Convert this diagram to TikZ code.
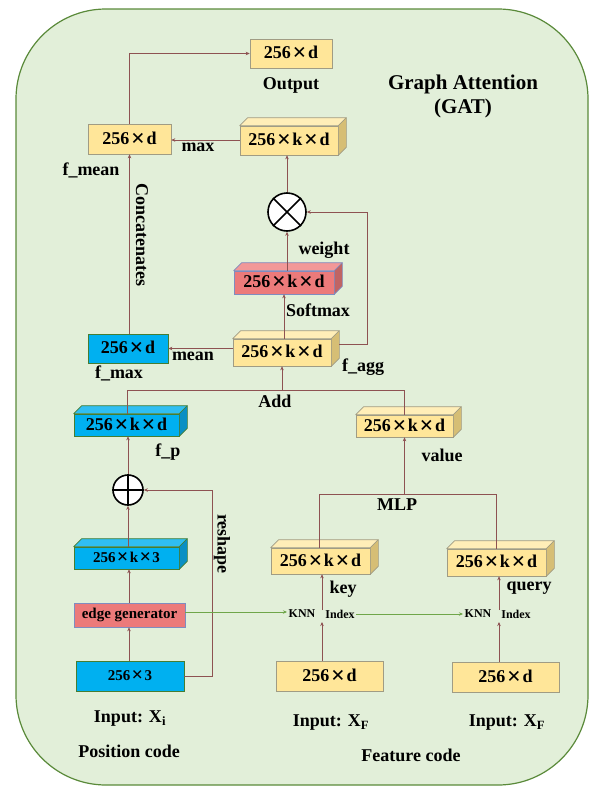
\documentclass[tikz,border=0pt]{standalone}
\usepackage{fontspec}
\setmainfont{Liberation Serif}
\usetikzlibrary{arrows.meta}

% full-width multiplication sign
\newcommand{\tms}{\makebox[0.95em]{\raisebox{-0.1em}{\scalebox{1.35}{×}}}}

\definecolor{panelfill}{RGB}{226,239,217}
\definecolor{paneledge}{RGB}{90,138,58}
\definecolor{link}{RGB}{142,82,82}
\definecolor{knnarrow}{RGB}{111,166,74}
\definecolor{yfront}{RGB}{255,230,153}
\definecolor{ytop}{RGB}{255,238,184}
\definecolor{yside}{RGB}{214,190,117}
\definecolor{yedge}{RGB}{160,156,132}
\definecolor{bfront}{RGB}{0,176,240}
\definecolor{btop}{RGB}{48,190,242}
\definecolor{bside}{RGB}{10,143,196}
\definecolor{bedge}{RGB}{70,125,50}
\definecolor{rfront}{RGB}{236,122,122}
\definecolor{rtop}{RGB}{242,152,152}
\definecolor{rside}{RGB}{192,100,100}
\definecolor{redge}{RGB}{127,140,192}

% top and side faces of a box whose front face is node #1
\newcommand{\boxfaces}[4]{%
  \filldraw[fill=#2,draw=#4,line width=0.6pt,line join=round]
    (#1.north west) -- ++(8,-8) -- ([shift={(8,-8)}]#1.north east) -- (#1.north east) -- cycle;
  \filldraw[fill=#3,draw=#4,line width=0.6pt,line join=round]
    (#1.north east) -- ++(8,-8) -- ([shift={(8,-8)}]#1.south east) -- (#1.south east) -- cycle;
}

\begin{document}
\begin{tikzpicture}[x=1pt,y=-1pt,
  big/.style={font=\fontsize{18}{20}\selectfont\bfseries},
  small/.style={font=\fontsize{15}{17}\selectfont\bfseries},
  tiny/.style={font=\fontsize{12}{14}\selectfont\bfseries, inner sep=1.5pt},
  lab/.style={big, inner sep=1pt},
  ybox/.style={big, draw=yedge, fill=yfront, line width=0.6pt, inner sep=0pt},
  bbox/.style={draw=bedge, fill=bfront, line width=0.6pt, inner sep=0pt},
  rbox/.style={draw=redge, fill=rfront, line width=0.6pt, inner sep=0pt},
  op/.style={circle, draw=black, fill=white, line width=1.6pt, inner sep=0pt},
  flow/.style={draw=link, line width=0.9pt, -{Stealth[length=4pt,width=3.5pt]}},
  plain/.style={draw=link, line width=0.9pt},
  knn/.style={draw=knnarrow, line width=0.9pt, -{Stealth[length=4pt,width=3.5pt]}}
]
\useasboundingbox (0,0) rectangle (590,787);

% panel
\draw[fill=panelfill, draw=paneledge, line width=1.2pt, rounded corners=90pt]
  (16,9) rectangle (588,785);

% flat boxes
\node[ybox, minimum width=82pt, minimum height=29pt] (out) at (291,53.5) {256\tms d};
\node[ybox, minimum width=83pt, minimum height=30pt] (fmean) at (129.5,139) {256\tms d};
\node[bbox, big, minimum width=80pt, minimum height=29pt] (fmax) at (128,348.5) {256\tms d};
\node[rbox, small, minimum width=111pt, minimum height=24pt] (eg) at (129.5,615) {edge generator};
\node[bbox, small, minimum width=108pt, minimum height=30pt] (pos) at (130,676) {256\tms 3};
\node[ybox, minimum width=107pt, minimum height=30pt] (in1) at (329.5,676) {256\tms d\hspace{13pt}};
\node[ybox, minimum width=107pt, minimum height=30pt] (in2) at (505.5,677) {256\tms d\hspace{15pt}};

% boxes with depth
\node[ybox, minimum width=98pt, minimum height=29pt] (maxb) at (289,140.5) {256\tms k\tms d};
\boxfaces{maxb}{ytop}{yside}{yedge}
\node[rbox, big, minimum width=100pt, minimum height=23pt] (sm) at (284,282.5) {256\tms k\tms d};
\boxfaces{sm}{rtop}{rside}{redge}
\node[ybox, minimum width=98pt, minimum height=27pt] (fagg) at (282,352.5) {256\tms k\tms d};
\boxfaces{fagg}{ytop}{yside}{yedge}
\node[bbox, big, minimum width=105pt, minimum height=22pt] (fp) at (126.5,425) {256\tms k\tms d\hspace{9pt}};
\boxfaces{fp}{btop}{bside}{bedge}
\node[ybox, minimum width=97pt, minimum height=22pt] (val) at (404.5,426) {256\tms k\tms d};
\boxfaces{val}{ytop}{yside}{yedge}
\node[bbox, small, minimum width=105pt, minimum height=22pt] (k3) at (126.5,558) {256\tms k\tms 3};
\boxfaces{k3}{btop}{bside}{bedge}
\node[ybox, minimum width=99pt, minimum height=26pt] (key) at (320.5,561) {256\tms k\tms d};
\boxfaces{key}{ytop}{yside}{yedge}
\node[ybox, minimum width=99pt, minimum height=27pt] (qry) at (496.5,562.5) {256\tms k\tms d};
\boxfaces{qry}{ytop}{yside}{yedge}

% operators
\node[op, minimum size=38pt] (mul) at (287,212) {};
\draw[line width=1.6pt] (mul.north west) -- (mul.south east) (mul.north east) -- (mul.south west);
\node[op, minimum size=30pt] (add) at (128,490) {};
\draw[line width=1.6pt] (add.north) -- (add.south) (add.west) -- (add.east);

% KNN / Index markers
\node[tiny] (knn1) at (302,614) {KNN};
\node[tiny] (idx1) at (340,614) {Index};
\node[tiny] (knn2) at (478,614) {KNN};
\node[tiny] (idx2) at (516,614) {Index};
\coordinate (j1) at (322,614);
\coordinate (j2) at (499,614);

% junction points
\coordinate (addL) at (127,390);
\coordinate (addR) at (404,390);
\coordinate (mlpL) at (319,494);
\coordinate (mlpR) at (496,494);

% connectors: upper part
\draw[flow] (fmean.north) |- (out.west);
\draw[flow] (maxb.west |- 0,140) -- (fmean.east |- 0,140);
\draw[flow] (mul.north) -- (mul.north |- maxb.south);
\draw[flow] (mul.south |- sm.north) -- (mul.south);
\draw[flow] (sm.south |- fagg.north) -- (sm.south);
\draw[flow] ([shift={(8,-8)}]fagg.east) -- ++(28,0) |- (mul.east);
\draw[flow] (fagg.west |- fmax.east) -- (fmax.east);
\draw[flow] (fmean.south |- fmax.north) -- (fmean.south);

% Add junction
\draw[plain] (addL |- fp.north) -- (addL) -- (addR) -- (addR |- val.north);
\draw[flow] (fagg.south |- addL) -- (fagg.south);

% position branch
\draw[flow] (add.north) -- (add.north |- fp.south);
\draw[flow] (add.south |- k3.north) -- (add.south);
\draw[flow] (eg.north -| 129,0) -- (k3.south -| 129,0);
\draw[flow] (pos.north -| 129,0) -- (eg.south -| 129,0);
\draw[flow] (pos.east) -- ++(28,0) |- (add.east);

% feature branch
\draw[knn] (eg.east |- 0,612) -- (knn1.west |- 0,612);
\draw[knn] (idx1.east) -- (knn2.west);
\draw[flow] (in1.north -| j1) -- ([yshift=-8pt]j1);
\draw[flow] ([yshift=4pt]j1) -- (key.south -| j1);
\draw[flow] (in2.north -| j2) -- ([yshift=-8pt]j2);
\draw[flow] ([yshift=4pt]j2) -- (qry.south -| j2);

% MLP junction
\draw[plain] (mlpL |- key.north) -- (mlpL) -- (mlpR) -- (mlpR |- qry.north);
\draw[flow] (val.south |- mlpL) -- (val.south);

% labels
\node[lab] at (291,85) {Output};
\node[big, font=\fontsize{21}{24}\selectfont\bfseries, align=center] at (463,96) {Graph Attention\\(GAT)};
\node[lab] at (198,147) {max};
\node[lab] at (91,170) {f\_mean};
\node[lab, rotate=-90] at (142,235) {Concatenates};
\node[lab] at (324,250) {weight};
\node[lab] at (318,310) {Softmax};
\node[lab] at (193,356) {mean};
\node[lab] at (119,373) {f\_max};
\node[lab] at (363,367) {f\_agg};
\node[lab] at (275,401) {Add};
\node[lab] at (168,452) {f\_p};
\node[lab] at (442,455) {value};
\node[lab] at (397,505) {MLP};
\node[lab, rotate=-90] at (222,544) {reshape};
\node[lab] at (343,589) {key};
\node[lab] at (529,588) {query};
\node[lab] at (130,719) {Input: X\textsubscript{i}};
\node[lab] at (129,751) {Position code};
\node[lab] at (331,723) {Input: X\textsubscript{F}};
\node[lab] at (507,723) {Input: X\textsubscript{F}};
\node[lab] at (411,755) {Feature code};
\end{tikzpicture}
\end{document}
